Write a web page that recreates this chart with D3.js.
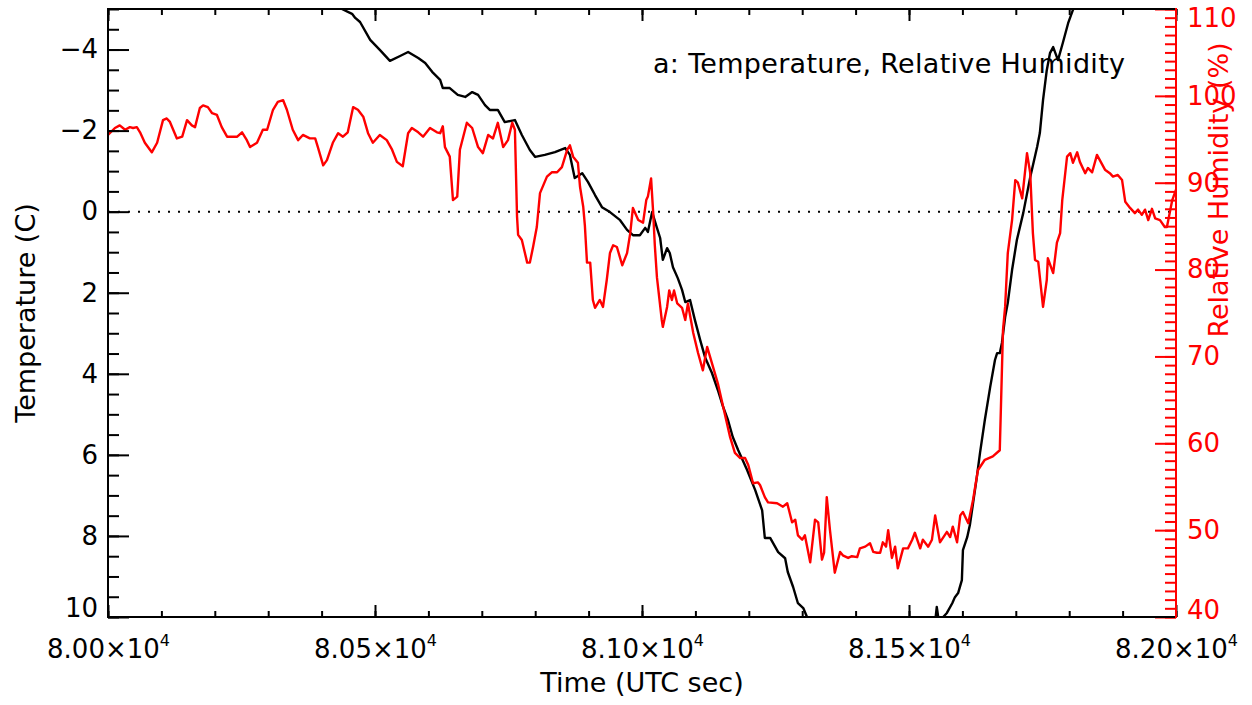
<!DOCTYPE html>
<html>
<head>
<meta charset="utf-8">
<script src="https://cdn.jsdelivr.net/npm/d3@7"></script>
<style>
body { margin: 0; background: #fff; }
svg { display: block; }
text { font-family: "DejaVu Sans", sans-serif; }
</style>
</head>
<body>
<svg id="chart" width="1252" height="705"></svg>
<script>
// axis ranges and ticks
const timeRange = [80000, 82000];
const tempRange = [-5, 10];
const rhRange = [40, 110];
const timeMajor = [80000, 80500, 81000, 81500, 82000];
const tempMajor = [-4, -2, 0, 2, 4, 6, 8, 10];
const rhMajor = [40, 50, 60, 70, 80, 90, 100, 110];

// [time (UTC sec), temperature (C)]
const temperature = [
  [80431,-5.22],[80438,-5.0],[80457,-4.88],[80463,-4.78],[80472,-4.68],[80491,-4.24],[80509,-3.99],
  [80528,-3.72],[80547,-3.84],[80562,-3.94],[80581,-3.79],[80594,-3.67],[80607,-3.45],[80622,-3.25],
  [80627,-3.05],[80640,-3.05],[80655,-2.88],[80669,-2.83],[80682,-2.95],[80693,-2.88],[80706,-2.63],
  [80715,-2.51],[80730,-2.51],[80743,-2.21],[80762,-2.26],[80775,-1.89],[80790,-1.52],[80800,-1.35],
  [80818,-1.40],[80837,-1.47],[80856,-1.57],[80865,-1.40],[80874,-0.83],[80888,-0.95],[80899,-0.73],
  [80912,-0.41],[80925,-0.11],[80940,0.01],[80959,0.21],[80972,0.45],[80983,0.58],[80996,0.58],
  [81006,0.40],[81011,0.50],[81019,0.01],[81028,0.40],[81034,0.65],[81039,1.19],[81047,0.90],
  [81052,1.02],[81058,1.37],[81067,1.64],[81075,1.93],[81081,2.23],[81090,2.18],[81099,2.67],
  [81109,3.17],[81118,3.59],[81131,3.98],[81142,4.40],[81152,4.82],[81161,5.14],[81170,5.56],
  [81180,5.88],[81197,6.38],[81212,6.87],[81225,7.37],[81230,8.05],[81240,8.05],[81255,8.40],
  [81268,8.55],[81273,8.89],[81283,9.26],[81292,9.66],[81302,9.78],[81309,10.0],[81318,10.32],
  [81549,10.12],[81552,9.75],[81556,10.12],[81564,10.0],[81571,9.90],[81581,9.66],[81586,9.51],
  [81592,9.41],[81599,9.09],[81601,8.35],[81609,8.03],[81614,7.73],[81620,7.19],[81627,6.55],
  [81633,5.95],[81642,5.14],[81652,4.33],[81661,3.66],[81665,3.49],[81670,3.49],[81674,3.24],
  [81680,2.60],[81685,2.25],[81693,1.44],[81702,0.70],[81714,0.03],[81727,-0.85],[81740,-1.60],
  [81745,-1.94],[81751,-2.75],[81758,-3.49],[81764,-3.91],[81770,-4.06],[81779,-3.74],[81788,-4.16],
  [81798,-4.65],[81807,-4.98],[81817,-5.22]
];

// [time (UTC sec), relative humidity (%)]
const humidity = [
  [80000,95.5],[80013,96.3],[80022,96.6],[80032,96.1],[80041,96.4],[80047,96.3],[80054,96.4],
  [80060,95.8],[80069,94.6],[80082,93.5],[80092,94.6],[80103,97.2],[80110,97.4],[80116,97.0],
  [80129,95.1],[80139,95.3],[80148,97.2],[80157,96.6],[80163,96.4],[80172,98.6],[80178,98.9],
  [80187,98.7],[80195,98.0],[80204,97.8],[80213,96.4],[80223,95.3],[80234,95.3],[80242,95.3],
  [80251,95.8],[80260,94.9],[80266,94.1],[80279,94.6],[80290,96.1],[80298,96.1],[80309,98.4],
  [80318,99.3],[80328,99.5],[80335,98.4],[80346,96.1],[80356,94.9],[80365,95.5],[80378,95.1],
  [80388,95.1],[80393,94.1],[80403,92.0],[80410,92.6],[80421,94.6],[80431,95.7],[80440,95.3],
  [80449,95.8],[80459,98.7],[80468,98.4],[80478,97.6],[80487,95.7],[80496,94.6],[80509,95.5],
  [80522,94.9],[80532,93.8],[80541,92.4],[80552,91.9],[80562,95.7],[80569,96.3],[80581,95.8],
  [80590,95.3],[80603,96.3],[80616,95.8],[80622,95.7],[80627,96.5],[80631,94.1],[80640,93.0],
  [80646,88.0],[80654,88.4],[80659,93.8],[80672,96.9],[80682,96.3],[80693,94.1],[80702,93.4],
  [80712,95.5],[80721,95.1],[80730,96.9],[80740,94.1],[80749,94.9],[80757,96.9],[80762,96.1],
  [80766,86.1],[80768,84.0],[80775,83.4],[80785,80.8],[80790,80.8],[80796,82.6],[80803,84.9],
  [80809,88.8],[80822,90.7],[80831,91.2],[80841,91.2],[80850,91.8],[80860,93.8],[80865,94.3],
  [80871,93.0],[80880,92.3],[80884,89.5],[80890,87.2],[80893,85.1],[80897,80.8],[80903,80.8],
  [80908,76.5],[80912,75.6],[80921,76.5],[80927,75.7],[80934,78.8],[80940,81.9],[80946,82.8],
  [80953,82.6],[80963,80.5],[80972,81.9],[80978,84.2],[80983,87.1],[80993,85.7],[81002,85.4],
  [81008,88.0],[81011,88.4],[81017,90.5],[81021,86.5],[81024,82.8],[81028,79.1],[81037,74.2],
  [81039,73.4],[81047,75.7],[81051,77.6],[81056,76.5],[81060,77.6],[81066,76.1],[81075,75.6],
  [81081,74.2],[81086,76.1],[81096,72.7],[81105,70.4],[81114,68.4],[81122,71.1],[81133,68.8],
  [81142,66.9],[81152,64.2],[81165,60.7],[81174,58.9],[81184,58.3],[81193,58.3],[81199,57.5],
  [81208,55.4],[81217,55.5],[81221,55.2],[81230,53.8],[81236,53.2],[81253,53.1],[81264,52.7],
  [81272,53.1],[81281,50.9],[81287,51.2],[81292,49.4],[81300,48.9],[81305,49.4],[81315,46.3],
  [81324,51.2],[81330,50.9],[81337,46.6],[81341,47.4],[81346,53.8],[81352,50.0],[81361,45.1],
  [81371,47.5],[81376,47.1],[81386,46.8],[81393,47.0],[81403,46.9],[81408,47.9],[81418,48.1],
  [81427,48.5],[81433,47.5],[81440,47.4],[81446,47.4],[81451,48.6],[81457,48.1],[81461,50.0],
  [81468,46.8],[81474,48.1],[81479,45.6],[81489,47.9],[81498,47.9],[81506,48.9],[81511,49.7],
  [81521,47.9],[81526,48.9],[81536,48.1],[81543,48.9],[81549,51.7],[81558,48.6],[81571,49.8],
  [81577,49.2],[81582,50.4],[81590,48.6],[81596,51.7],[81601,52.1],[81611,50.8],[81620,53.5],
  [81629,56.9],[81642,58.1],[81657,58.5],[81670,59.2],[81676,73.0],[81680,75.7],[81685,81.9],
  [81693,85.7],[81699,90.3],[81704,90.0],[81712,88.2],[81721,93.4],[81727,91.1],[81732,84.2],
  [81736,81.1],[81742,80.9],[81751,75.7],[81758,78.8],[81760,81.3],[81770,79.6],[81777,83.1],
  [81783,84.2],[81787,88.0],[81796,93.0],[81802,93.4],[81807,92.3],[81815,93.5],[81820,92.4],
  [81830,91.1],[81835,91.7],[81843,91.2],[81852,93.2],[81867,91.5],[81876,91.1],[81882,90.7],
  [81891,90.9],[81899,90.3],[81905,87.8],[81914,87.1],[81923,86.5],[81929,86.9],[81936,86.3],
  [81942,86.9],[81948,85.7],[81955,87.0],[81961,85.9],[81970,85.7],[81979,84.9],[81983,84.9],
  [81993,88.0],[82000,89.2]
];

const RED = "#ff0000";
const plotLeft = 108, plotRight = 1176, plotTop = 9, plotBottom = 617;

const svg = d3.select("#chart");

const x = d3.scaleLinear().domain(timeRange).range([plotLeft, plotRight]);
const yT = d3.scaleLinear().domain(tempRange).range([plotTop, plotBottom]);   // reversed: cold at top
const yRH = d3.scaleLinear().domain(rhRange).range([plotBottom, plotTop]);

svg.append("clipPath").attr("id", "plotclip")
  .append("rect")
  .attr("x", plotLeft).attr("y", plotTop)
  .attr("width", plotRight - plotLeft).attr("height", plotBottom - plotTop);

// dotted zero line
svg.append("line")
  .attr("x1", x(timeRange[0])).attr("x2", x(timeRange[1]))
  .attr("y1", yT(0)).attr("y2", yT(0))
  .attr("stroke", "#000").attr("stroke-width", 2)
  .attr("stroke-dasharray", "2,8");

const plot = svg.append("g").attr("clip-path", "url(#plotclip)");

plot.append("path")
  .datum(temperature)
  .attr("fill", "none")
  .attr("stroke", "#000")
  .attr("stroke-width", 2.4)
  .attr("stroke-linejoin", "round")
  .attr("d", d3.line().x(d => x(d[0])).y(d => yT(d[1])));

plot.append("path")
  .datum(humidity)
  .attr("fill", "none")
  .attr("stroke", RED)
  .attr("stroke-width", 2.4)
  .attr("stroke-linejoin", "round")
  .attr("d", d3.line().x(d => x(d[0])).y(d => yRH(d[1])));

function styleAxis(g, color) {
  g.select(".domain").remove();
  g.attr("font-size", 26).attr("font-family", null);
  g.selectAll(".tick line").attr("stroke", color).attr("stroke-width", 2);
  g.selectAll(".tick text").attr("fill", color);
}

// left temperature axis
svg.append("g").attr("transform", `translate(${plotLeft},0)`)
  .call(d3.axisLeft(yT).tickValues(d3.range(-5, 10.01, 0.5)).tickSize(-11).tickFormat(""))
  .call(g => styleAxis(g, "#000"));
const leftAxis = svg.append("g").attr("transform", `translate(${plotLeft},0)`)
  .call(d3.axisLeft(yT).tickValues(tempMajor).tickSize(-21).tickPadding(10).tickFormat(d3.format("d")))
  .call(g => styleAxis(g, "#000"));
leftAxis.selectAll(".tick text").filter(d => d === 10).attr("y", -9);

// bottom and top time axes
svg.append("g").attr("transform", `translate(0,${plotBottom})`)
  .call(d3.axisBottom(x).tickValues(d3.range(80000, 82001, 100)).tickSize(-6).tickFormat(""))
  .call(g => styleAxis(g, "#000"));
const bottomAxis = svg.append("g").attr("transform", `translate(0,${plotBottom})`)
  .call(d3.axisBottom(x).tickValues(timeMajor).tickSize(-12).tickPadding(23))
  .call(g => styleAxis(g, "#000"));
bottomAxis.selectAll(".tick text").each(function(d) {
  const t = d3.select(this).text(null);
  t.append("tspan").text((d / 1e4).toFixed(2) + "×10");
  t.append("tspan").attr("dy", -12).attr("font-size", 16).text("4");
});
svg.append("g").attr("transform", `translate(0,${plotTop})`)
  .call(d3.axisTop(x).tickValues(d3.range(80000, 82001, 100)).tickSize(-6).tickFormat(""))
  .call(g => styleAxis(g, "#000"));
svg.append("g").attr("transform", `translate(0,${plotTop})`)
  .call(d3.axisTop(x).tickValues(timeMajor).tickSize(-12).tickFormat(""))
  .call(g => styleAxis(g, "#000"));

// right humidity axis
svg.append("g").attr("transform", `translate(${plotRight},0)`)
  .call(d3.axisRight(yRH).tickValues(d3.range(40, 110.5, 1)).tickSize(-11).tickFormat(""))
  .call(g => styleAxis(g, RED));
const rightAxis = svg.append("g").attr("transform", `translate(${plotRight},0)`)
  .call(d3.axisRight(yRH).tickValues(rhMajor).tickSize(-21).tickPadding(11).tickFormat(d3.format("d")))
  .call(g => styleAxis(g, RED));
rightAxis.selectAll(".tick text").filter(d => d === 110).attr("y", 9);
rightAxis.selectAll(".tick text").filter(d => d === 40).attr("y", -7);

// frame
const frame = svg.append("g").attr("stroke-width", 2).attr("stroke-linecap", "square");
frame.append("line").attr("x1", plotLeft).attr("x2", plotLeft).attr("y1", plotTop).attr("y2", plotBottom).attr("stroke", "#000");
frame.append("line").attr("x1", plotLeft).attr("x2", plotRight).attr("y1", plotBottom).attr("y2", plotBottom).attr("stroke", "#000");
frame.append("line").attr("x1", plotLeft).attr("x2", plotRight).attr("y1", plotTop).attr("y2", plotTop).attr("stroke", "#000");
frame.append("line").attr("x1", plotRight).attr("x2", plotRight).attr("y1", plotTop).attr("y2", plotBottom).attr("stroke", RED);

// titles
svg.append("text")
  .attr("transform", `translate(35,${(plotTop + plotBottom) / 2}) rotate(-90)`)
  .attr("text-anchor", "middle").attr("font-size", 27)
  .text("Temperature (C)");
svg.append("text")
  .attr("transform", `translate(1228,190) rotate(-90)`)
  .attr("text-anchor", "middle").attr("font-size", 27).attr("fill", RED)
  .text("Relative Humidity (%)");
svg.append("text")
  .attr("x", (plotLeft + plotRight) / 2).attr("y", 692)
  .attr("text-anchor", "middle").attr("font-size", 27)
  .text("Time (UTC sec)");
svg.append("text")
  .attr("x", 653).attr("y", 73)
  .attr("font-size", 27)
  .attr("textLength", 472)
  .text("a: Temperature, Relative Humidity");
</script>
</body>
</html>
